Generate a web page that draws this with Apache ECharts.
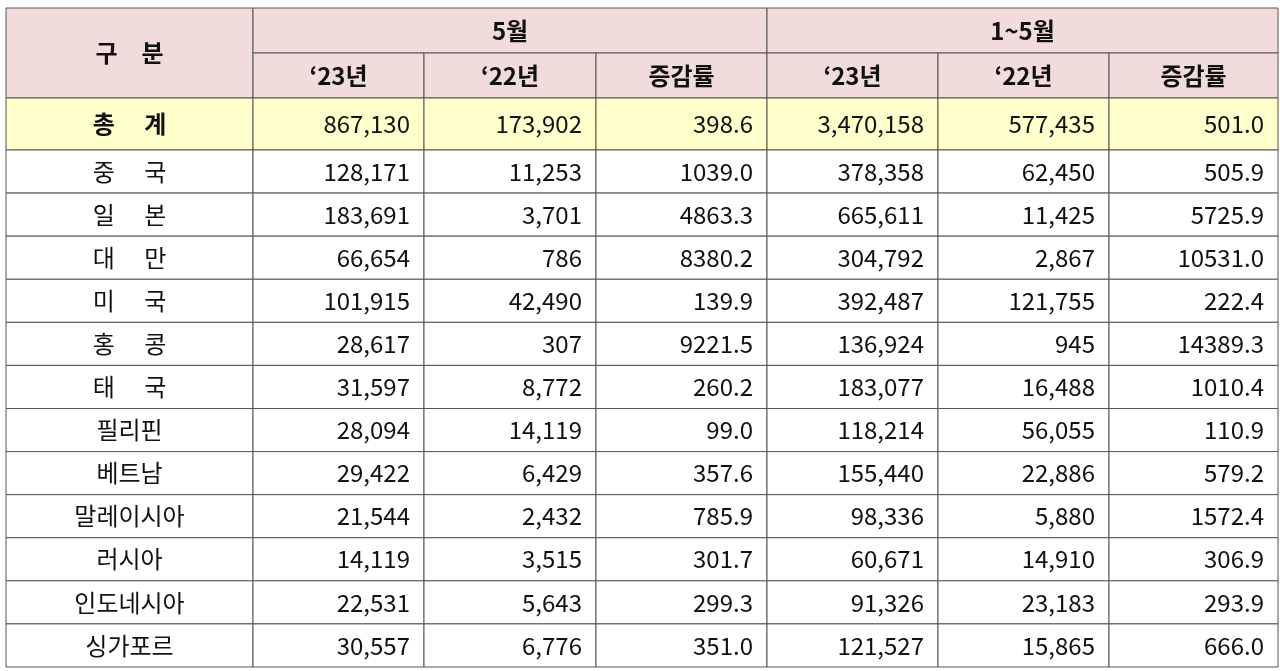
<!DOCTYPE html>
<html><head><meta charset="utf-8">
<script src="https://cdn.jsdelivr.net/npm/echarts@6/dist/echarts.min.js"></script>
<style>html,body{margin:0;padding:0;background:#fff}#c{width:1280px;height:671px}</style>
</head><body><div id="c"></div>
<script>
const countries = ['중　 국','일　 본','대　 만','미　 국','홍　 콩','태　 국','필리핀','베트남','말레이시아','러시아','인도네시아','싱가포르'];
const may23 = [128171,183691,66654,101915,28617,31597,28094,29422,21544,14119,22531,30557];
const may22 = [11253,3701,786,42490,307,8772,14119,6429,2432,3515,5643,6776];
const mayRate = [1039.0,4863.3,8380.2,139.9,9221.5,260.2,99.0,357.6,785.9,301.7,299.3,351.0];
const ytd23 = [378358,665611,304792,392487,136924,183077,118214,155440,98336,60671,91326,121527];
const ytd22 = [62450,11425,2867,121755,945,16488,56055,22886,5880,14910,23183,15865];
const ytdRate = [505.9,5725.9,10531.0,222.4,14389.3,1010.4,110.9,579.2,1572.4,306.9,293.9,666.0];
const totalLabel = '총　 계';
const total = [867130,173902,398.6,3470158,577435,501.0];
const groupHeaders = ['5월','1~5월'];
const subHeaders = ['‘23년','‘22년','증감률'];
const cornerHeader = '구　분';

// layout (pixels in axis units)
const colEdges = [0,247,418,590,761,932,1103,1272];
const hdr = [0,45,90];
const totalBottom = 142;
const rowH = (659-142)/12;

const fmtN = v => v.toLocaleString('en-US');
const fmtR = v => v.toFixed(1);
const cells = [];
const PINK = '#f2dcdb', YEL = '#ffffcc';
cells.push([0,247,0,90,cornerHeader,'center',1,PINK]);
groupHeaders.forEach((g,i)=>cells.push([colEdges[1+3*i],colEdges[4+3*i],0,45,g,'center',1,PINK]));
for(let i=0;i<6;i++) cells.push([colEdges[i+1],colEdges[i+2],45,90,subHeaders[i%3],'center',1,PINK]);
cells.push([0,247,90,totalBottom,totalLabel,'center',1,YEL]);
total.forEach((v,i)=>cells.push([colEdges[i+1],colEdges[i+2],90,totalBottom,(i%3==2?fmtR(v):fmtN(v)),'right',0,YEL]));
countries.forEach((c,r)=>{
  const y0=totalBottom+r*rowH, y1=y0+rowH;
  cells.push([0,247,y0,y1,c,'center',0,'#fff']);
  [may23[r],may22[r],mayRate[r],ytd23[r],ytd22[r],ytdRate[r]].forEach((v,i)=>
    cells.push([colEdges[i+1],colEdges[i+2],y0,y1,(i%3==2?fmtR(v):fmtN(v)),'right',0,'#fff']));
});

const chart = echarts.init(document.getElementById('c'));
chart.setOption({
  animation:false,
  grid:{left:6,top:8,width:1272,height:659},
  xAxis:{type:'value',min:0,max:1272,show:false},
  yAxis:{type:'value',min:0,max:659,inverse:true,show:false},
  series:[{
    type:'custom',
    data:cells,
    encode:{x:[0,1],y:[2,3]},
    renderItem:(params,api)=>{
      const d=cells[params.dataIndex];
      const p0=api.coord([d[0],d[2]]), p1=api.coord([d[1],d[3]]);
      const w=p1[0]-p0[0], h=p1[1]-p0[1];
      const tx = d[5]==='center'? p0[0]+w/2 : p1[0]-14;
      return {type:'group',children:[
        {type:'rect',shape:{x:p0[0],y:p0[1],width:w,height:h},style:{fill:d[7],stroke:'#555',lineWidth:1}},
        {type:'text',style:{x:tx,y:p0[1]+h/2,text:d[4],textAlign:d[5],textVerticalAlign:'middle',
          font:(d[6]?'bold ':'')+'24px "Noto Sans CJK KR", "Noto Sans", sans-serif',fill:'#111'}}
      ]};
    }
  }]
});
</script></body></html>
